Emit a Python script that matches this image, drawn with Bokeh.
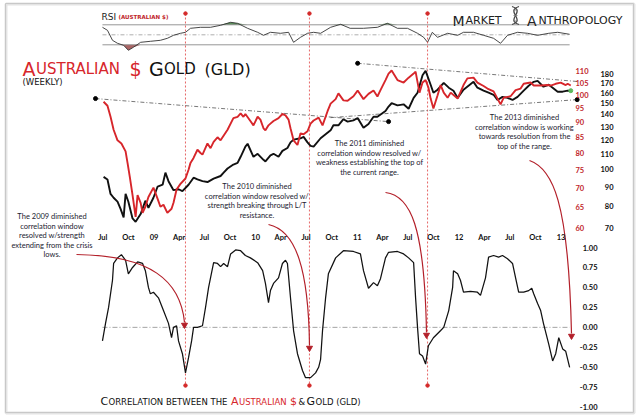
import numpy as np
import pandas as pd
from bokeh.plotting import figure
from bokeh.models import Range1d, LogScale, LinearAxis, FixedTicker, NumeralTickFormatter, Label
from bokeh.embed import file_html
from bokeh.resources import INLINE

# ---------------- data ----------------
corr_dates = ["2008-06-30","2008-07-11","2008-07-22","2008-08-05","2008-08-09","2008-08-23","2008-09-06",
              "2008-09-21","2008-10-01","2008-10-16","2008-11-03","2008-11-21","2008-12-01","2008-12-12",
              "2008-12-19","2008-12-30","2009-01-17","2009-02-04","2009-02-22","2009-03-05","2009-03-12",
              "2009-03-23","2009-03-30","2009-04-13","2009-04-24","2009-05-05","2009-05-16","2009-05-23",
              "2009-06-06","2009-06-24","2009-07-05","2009-07-16","2009-08-03","2009-08-17","2009-08-28",
              "2009-09-08","2009-09-22","2009-10-03","2009-10-21","2009-11-08","2009-11-25","2009-12-13",
              "2010-01-08","2010-01-26","2010-02-05","2010-02-16","2010-02-23","2010-03-06","2010-03-24",
              "2010-04-07","2010-04-18","2010-04-25","2010-05-06","2010-05-17","2010-05-31","2010-06-18",
              "2010-06-29","2010-07-17","2010-08-04","2010-08-15","2010-08-22","2010-08-29","2010-09-09",
              "2010-09-19","2010-10-15","2010-11-12","2010-12-18","2011-01-12","2011-01-23","2011-02-10",
              "2011-02-28","2011-03-14","2011-03-25","2011-04-12","2011-04-23","2011-05-25","2011-06-16",
              "2011-07-04","2011-07-22","2011-07-29","2011-08-05","2011-08-12","2011-08-23","2011-09-03",
              "2011-09-13","2011-10-01","2011-10-27","2011-11-07","2011-11-25","2011-12-09","2011-12-12",
              "2011-12-27","2012-01-06","2012-01-17","2012-02-11","2012-03-07","2012-03-18","2012-04-05",
              "2012-04-16","2012-05-04","2012-05-22","2012-06-05","2012-06-23","2012-07-11","2012-07-22",
              "2012-08-02","2012-08-20","2012-09-07","2012-09-18","2012-09-25","2012-10-09","2012-10-20",
              "2012-10-30","2012-11-18","2012-12-02","2012-12-13","2012-12-24","2013-01-07","2013-01-18",
              "2013-02-01"]
corr_values = [-0.17, 0.05, 0.25, 0.59, 0.80, 0.87, 0.91,
               0.84, 0.67, 0.75, 0.82, 0.80, 0.71, 0.50,
               0.42, 0.44, 0.37, 0.21, 0.05, -0.13, 0.00,
               0.02, -0.17, -0.33, -0.57, -0.38, -0.17, 0.00,
               0.00, 0.02, 0.25, 0.50, 0.81, 0.80, 0.76,
               0.80, 0.76, 0.92, 0.97, 0.96, 0.90, 0.87,
               0.81, 0.71, 0.55, 0.31, 0.46, 0.55, 0.62,
               0.80, 0.84, 0.80, 0.37, -0.04, -0.33, -0.54,
               -0.63, -0.63, -0.57, -0.50, -0.40, -0.04, 0.37,
               0.67, 0.87, 0.96, 0.95, 0.92, 0.71, 0.49,
               0.56, 0.52, 0.61, 0.87, 0.94, 0.95, 0.92,
               0.87, 0.81, 0.37, 0.00, -0.33, -0.36, -0.46,
               -0.23, -0.13, -0.04, 0.00, 0.21, 0.50, 0.71,
               0.67, 0.59, 0.44, 0.45, 0.44, 0.40, 0.62,
               0.88, 0.90, 0.88, 0.90, 0.86, 0.80, 0.62,
               0.44, 0.44, 0.46, 0.49, 0.42, 0.30, 0.21,
               0.05, -0.21, -0.42, -0.33, -0.13, -0.27, -0.30,
               -0.50]

aud_dates = ["2008-07-04","2008-07-18","2008-07-29","2008-08-09","2008-08-23","2008-09-06","2008-09-21",
             "2008-09-28","2008-10-06","2008-10-16","2008-10-27","2008-11-03","2008-11-14","2008-11-21",
             "2008-12-01","2008-12-12","2008-12-30","2009-01-14","2009-01-24","2009-02-04","2009-02-18",
             "2009-03-05","2009-03-12","2009-03-23","2009-04-06","2009-04-24","2009-05-05","2009-05-12",
             "2009-05-23","2009-06-06","2009-06-17","2009-06-24","2009-07-12","2009-07-23","2009-08-03",
             "2009-08-17","2009-08-28","2009-09-22","2009-10-13","2009-10-28","2009-11-08","2009-11-18",
             "2009-11-25","2009-12-13","2009-12-24","2010-01-08","2010-01-18","2010-01-29","2010-02-05",
             "2010-02-16","2010-02-23","2010-03-06","2010-03-24","2010-04-07","2010-04-18","2010-04-29",
             "2010-05-06","2010-05-17","2010-05-31","2010-06-11","2010-06-22","2010-07-06","2010-07-17",
             "2010-07-28","2010-08-15","2010-08-29","2010-09-16","2010-09-27","2010-10-15","2010-10-25",
             "2010-11-12","2010-11-27","2010-12-18","2011-01-02","2011-01-23","2011-02-10","2011-02-28",
             "2011-03-14","2011-03-25","2011-04-12","2011-04-23","2011-05-04","2011-05-25","2011-06-16",
             "2011-07-04","2011-07-22","2011-07-29","2011-08-12","2011-08-23","2011-09-03","2011-09-13",
             "2011-09-21","2011-10-01","2011-10-16","2011-10-27","2011-11-07","2011-11-21","2011-12-02",
             "2011-12-27","2012-01-17","2012-01-31","2012-02-22","2012-03-07","2012-03-29","2012-04-12",
             "2012-05-04","2012-05-18","2012-05-29","2012-06-09","2012-07-04","2012-07-22","2012-08-09",
             "2012-08-20","2012-09-14","2012-09-25","2012-10-20","2012-11-14","2012-11-25","2012-12-13",
             "2012-12-31","2013-01-18","2013-01-25","2013-02-05"]
aud_values = [97.5, 96, 92, 87.5, 84, 83, 80.5,
              77, 73, 68, 62.5, 68, 66, 63.5,
              65, 67.5, 70, 67, 65, 65.5, 63.5,
              64.5, 66, 69.5, 71, 72.5, 75, 77,
              78.5, 81, 80, 79.5, 83, 81.5, 83.5,
              85, 84, 87.5, 91.5, 92, 93.2, 92,
              93, 90.5, 89, 92, 91, 88, 87.3,
              89, 89.6, 90.5, 91.5, 93, 92.5, 91,
              88, 84, 82.5, 86.3, 86, 87, 89.6,
              90.7, 91.7, 89, 94, 96.8, 98.5, 100.7,
              98, 97.9, 99.6, 101.8, 98.5, 100.5, 101.8,
              99.5, 102, 106, 108.7, 110, 106, 105,
              107, 108.7, 109.5, 101, 105, 106, 103,
              98.7, 95, 100, 104, 101, 99, 101,
              98.7, 104, 106.7, 107, 105, 103.6, 102.6,
              101.5, 98.7, 96.5, 99, 99.6, 102, 102.6,
              104.5, 105, 103.8, 103.8, 104, 103.8, 104.5,
              105, 104, 104.5, 103.8]

gld_dates = ["2008-07-04","2008-07-18","2008-07-29","2008-08-09","2008-08-23","2008-09-03","2008-09-14",
             "2008-09-21","2008-10-01","2008-10-16","2008-10-27","2008-11-14","2008-12-01","2008-12-12",
             "2008-12-30","2009-01-14","2009-02-01","2009-02-11","2009-02-22","2009-03-12","2009-03-30",
             "2009-04-13","2009-05-05","2009-05-23","2009-06-06","2009-06-24","2009-07-12","2009-08-03",
             "2009-08-28","2009-09-08","2009-09-22","2009-10-13","2009-10-28","2009-11-08","2009-11-25",
             "2009-12-03","2009-12-24","2010-01-08","2010-01-29","2010-02-05","2010-02-23","2010-03-06",
             "2010-03-24","2010-04-07","2010-04-25","2010-05-06","2010-05-17","2010-06-11","2010-06-22",
             "2010-07-06","2010-07-17","2010-07-28","2010-08-22","2010-09-09","2010-09-27","2010-10-07",
             "2010-10-25","2010-11-12","2010-11-27","2010-12-18","2011-01-02","2011-01-23","2011-02-10",
             "2011-02-28","2011-03-14","2011-04-12","2011-04-23","2011-05-04","2011-05-25","2011-06-16",
             "2011-07-04","2011-07-22","2011-08-05","2011-08-23","2011-09-03","2011-09-21","2011-10-01",
             "2011-10-16","2011-11-07","2011-11-25","2011-12-12","2011-12-27","2012-01-17","2012-02-22",
             "2012-03-07","2012-03-29","2012-04-16","2012-05-04","2012-05-18","2012-06-05","2012-06-23",
             "2012-07-11","2012-07-29","2012-08-20","2012-09-07","2012-09-25","2012-10-09","2012-10-30",
             "2012-11-18","2012-12-02","2012-12-20","2013-01-07","2013-01-25","2013-02-05"]
gld_values = [95.5, 94, 86, 84, 82, 78.5, 74.5,
              86, 82, 74, 72.5, 76, 82.5, 79,
              84, 90, 91, 98, 93, 88, 88.5,
              87.5, 91, 95, 94, 93, 92.5, 94.5,
              96, 98, 100.5, 103, 104, 108, 115,
              117, 108, 110, 106, 105, 109, 110,
              108, 112, 114, 118, 120, 121, 122,
              118, 115.5, 115, 121, 124, 127, 131,
              131, 136, 134, 135, 137, 129, 132,
              138, 138, 143, 147, 150, 148, 149,
              145, 155, 160, 178, 183, 168, 160,
              163, 170, 165, 162, 155, 163, 171,
              165, 162, 160, 158, 153, 156, 155,
              153, 156, 162, 167, 171, 172, 166,
              168, 165, 161, 161, 162, 162]

rsi_dates = ["2008-06-30","2008-07-18","2008-08-05","2008-08-23","2008-09-14","2008-10-01","2008-10-19",
             "2008-11-14","2008-12-19","2009-01-24","2009-02-18","2009-03-12","2009-04-06","2009-04-24",
             "2009-05-12","2009-06-17","2009-07-23","2009-08-28","2009-10-03","2009-10-28","2009-12-03",
             "2010-01-08","2010-01-29","2010-02-23","2010-03-31","2010-04-29","2010-05-17","2010-06-11",
             "2010-07-06","2010-07-28","2010-08-22","2010-09-27","2010-11-02","2010-12-06","2011-01-23",
             "2011-03-14","2011-04-19","2011-05-25","2011-06-30","2011-08-05","2011-08-27","2011-09-10",
             "2011-09-27","2011-10-16","2011-11-21","2011-12-27","2012-01-17","2012-02-22","2012-03-29",
             "2012-05-04","2012-05-29","2012-06-23","2012-07-29","2012-09-03","2012-10-09","2012-11-18",
             "2012-12-20","2013-02-01"]
rsi_values = [65, 59, 39, 33, 29, 19, 25,
              35, 37, 39, 43, 49, 53, 55,
              63, 65, 65, 69, 75, 73, 63,
              55, 49, 55, 53, 55, 35, 45,
              53, 55, 53, 65, 71, 63, 63,
              65, 73, 63, 63, 53, 45, 35,
              55, 45, 53, 49, 55, 55, 49,
              43, 33, 49, 55, 53, 49, 53,
              55, 51]

event_dates = ["2009-04-24", "2010-07-13", "2011-09-10"]

aud_ticks = [60, 65, 70, 75, 80, 85, 90, 95, 100, 105, 110]
gld_ticks = [70, 80, 90, 100, 110, 120, 130, 140, 150, 160, 170, 180]
corr_ticks = [-1.0, -0.75, -0.5, -0.25, 0.0, 0.25, 0.5, 0.75, 1.0]
month_tick_dates = ["2008-07-01","2008-10-01","2009-01-01","2009-04-01","2009-07-01","2009-10-01",
                    "2010-01-01","2010-04-01","2010-07-01","2010-10-01","2011-01-01","2011-04-01",
                    "2011-07-01","2011-10-01","2012-01-01","2012-04-01","2012-07-01","2012-10-01",
                    "2013-01-01"]
month_tick_labels = ["Jul","Oct","09","Apr","Jul","Oct","10","Apr","Jul","Oct","11","Apr",
                     "Jul","Oct","12","Apr","Jul","Oct","13"]

# trend lines drawn on the AUD scale
trend_starts = ["2008-06-05", "2010-09-27", "2011-01-02"]
trend_ends = ["2011-04-23", "2013-02-28", "2013-03-04"]
trend_start_levels = [98.7, 91.7, 113.1]
trend_end_levels = [90.3, 98.3, 105.4]
trend_dot_dates = ["2008-06-05", "2011-04-23", "2013-02-28", "2011-01-02"]
trend_dot_levels = [98.7, 90.3, 98.3, 113.1]

# ---------------- layout calibration (reference pixel geometry) ----------------
W, H = 638, 416
LEFT, TOP = 0, 0
X_ANCHOR = pd.Timestamp("2009-01-01")
X_ANCHOR_PX = 153.5
PX_PER_YEAR = 101.75


def px_to_ms(x):
    return (X_ANCHOR + pd.Timedelta(days=(x - X_ANCHOR_PX) * 365.25 / PX_PER_YEAR)).value / 1e6


def lin_map(v1, y1, v2, y2):
    return lambda y: v1 + (y - y1) * (v2 - v1) / (y2 - y1)


def log_map(v1, y1, v2, y2):
    f = lin_map(np.log(v1), y1, np.log(v2), y2)
    return lambda y: float(np.exp(f(y)))


corr_at = lin_map(1.0, 247.0, -1.0, 406.7)
rsi_at = lin_map(70, 24.3, 30, 44.3)
aud_at = log_map(110, 70, 60, 227)
gld_at = log_map(180, 73, 70, 227)


def rng(f):
    return Range1d(start=f(TOP + H), end=f(TOP))


RED = "#d7262b"
DARK_RED = "#b3202a"
INK = "#1c1c30"

p = figure(width=W, height=H, output_backend="svg", toolbar_location=None,
           x_range=Range1d(px_to_ms(LEFT), px_to_ms(LEFT + W)), y_range=rng(corr_at),
           x_axis_location=None, y_axis_location=None, min_border=0)
p.grid.grid_line_color = None
p.outline_line_color = None
p.background_fill_color = "white"
p.border_fill_color = "white"
p.extra_y_ranges = {"aud": rng(aud_at), "gld": rng(gld_at), "rsi": rng(rsi_at),
                    "py": Range1d(TOP + H, TOP)}
p.extra_y_scales = {"aud": LogScale(), "gld": LogScale()}
p.extra_x_ranges = {"px": Range1d(LEFT, LEFT + W)}

# card frame
p.quad(left=[5.5], right=[633.5], top=[3.5], bottom=[412.5], x_range_name="px", y_range_name="py",
       fill_color=None, line_color="#e4e4e4", line_width=3)
p.quad(left=[5], right=[633], top=[3], bottom=[412], x_range_name="px", y_range_name="py",
       fill_color=None, line_color="#c8c8c8", line_width=1)

cd = pd.to_datetime(corr_dates)
ad = pd.to_datetime(aud_dates)
gd = pd.to_datetime(gld_dates)
rd = pd.to_datetime(rsi_dates)
ed = pd.to_datetime(event_dates)
x_first, x_last = cd[0], cd[-1]

# ---- RSI panel ----
rv = np.array(rsi_values, dtype=float)
p.varea(x=rd, y1=np.minimum(rv, 30), y2=30, y_range_name="rsi", fill_color="#9c4a4a", fill_alpha=0.85)
p.varea(x=rd, y1=np.maximum(rv, 70), y2=70, y_range_name="rsi", fill_color="#3f7d3f", fill_alpha=0.85)
p.segment(x0=[x_first, x_first], y0=[70, 30], x1=[x_last, x_last], y1=[70, 30], y_range_name="rsi",
          line_color="#8a8a8a", line_width=0.9)
p.segment(x0=[x_first], y0=[50], x1=[x_last], y1=[50], y_range_name="rsi",
          line_color="#9a9a9a", line_width=0.8, line_dash="4 2 1 2")
p.line(rd, rv, y_range_name="rsi", line_color="#333333", line_width=0.9)

# ---- event markers ----
EV_TOP, EV_BOTTOM = 13, 385
p.segment(x0=ed, y0=[EV_TOP] * 3, x1=ed, y1=[EV_BOTTOM] * 3, y_range_name="py",
          line_color="#e04040", line_width=0.8, line_dash="2 2")
p.scatter(list(ed) * 2, [EV_TOP] * 3 + [EV_BOTTOM] * 3, y_range_name="py", size=3.5,
          color="#d42a2a")

# ---- price panel ----
p.segment(x0=pd.to_datetime(trend_starts), y0=trend_start_levels, x1=pd.to_datetime(trend_ends),
          y1=trend_end_levels, y_range_name="aud", line_color="#555555", line_width=0.8,
          line_dash="4 2 1 2")
p.scatter(pd.to_datetime(trend_dot_dates), trend_dot_levels, y_range_name="aud", size=4, color="black")
p.line(gd, gld_values, y_range_name="gld", line_color="#111111", line_width=1.9)
p.line(ad, aud_values, y_range_name="aud", line_color=RED, line_width=1.9)
p.scatter([gd[-1]], [gld_values[-1]], y_range_name="gld", size=4, color="#5cb85c")

# ---- correlation panel ----
p.segment(x0=[x_first], y0=[0], x1=[x_last], y1=[0], line_color="#9a9a9a", line_width=0.9,
          line_dash="5 2 1 2")
p.line(cd, corr_values, line_color="#111111", line_width=1.25)

# ---- axes (fixed inside the canvas) ----
common = dict(axis_line_color=None, major_tick_line_color=None, minor_tick_line_color=None,
              major_tick_out=0, major_tick_in=0, minor_tick_out=0, minor_tick_in=0,
              major_label_text_font="Lato", major_label_text_font_style="bold",
              major_label_text_font_size="7.5px")
ax_aud = LinearAxis(y_range_name="aud", ticker=FixedTicker(ticks=aud_ticks),
                    formatter=NumeralTickFormatter(format="0"), fixed_location=px_to_ms(574),
                    major_label_standoff=1, major_label_text_color="#c1272d", **common)
p.add_layout(ax_aud, "right")
ax_gld = LinearAxis(y_range_name="gld", ticker=FixedTicker(ticks=gld_ticks),
                    formatter=NumeralTickFormatter(format="0"), fixed_location=px_to_ms(614),
                    major_label_standoff=1, major_label_text_color="#111111", **common)
p.add_layout(ax_gld, "left")
ax_corr = LinearAxis(ticker=FixedTicker(ticks=corr_ticks), formatter=NumeralTickFormatter(format="0.00"),
                     fixed_location=px_to_ms(598), major_label_standoff=1,
                     major_label_text_color="#111111", **common)
p.add_layout(ax_corr, "left")
tick_ms = [pd.Timestamp(d).value / 1e6 for d in month_tick_dates]
ax_x = LinearAxis(ticker=FixedTicker(ticks=tick_ms),
                  major_label_overrides={t: l for t, l in zip(tick_ms, month_tick_labels)},
                  fixed_location=corr_at(232.5), major_label_standoff=0,
                  major_label_text_color="#111111", **common)
p.add_layout(ax_x, "below")

# ---- arrows (annotation geometry in reference pixels) ----
arrows = [  # x0, y0, cx0, cy0, cx1, cy1, x1, y1
    (76, 254, 150, 255, 180, 280, 184, 322),
    (268, 224, 296, 230, 308, 270, 309, 345),
    (385, 192, 410, 195, 424, 225, 426, 332),
    (529, 160, 552, 168, 568, 200, 571, 333),
]
a = np.array(arrows, dtype=float)
p.bezier(x0=a[:, 0], y0=a[:, 1], cx0=a[:, 2], cy0=a[:, 3], cx1=a[:, 4], cy1=a[:, 5],
         x1=a[:, 6], y1=a[:, 7], x_range_name="px", y_range_name="py",
         line_color=DARK_RED, line_width=1.2)
p.scatter(a[:, 6], a[:, 7] + 2.5, x_range_name="px", y_range_name="py", marker="triangle",
          angle=np.pi, size=6, color=DARK_RED)

# logo helix
p.bezier(x0=[511.5, 518.5], y0=[6, 6], cx0=[526, 504], cy0=[11, 11], cx1=[504, 526], cy1=[19, 19],
         x1=[518.5, 511.5], y1=[24, 24], x_range_name="px", y_range_name="py",
         line_color="#444444", line_width=1.3)
p.segment(x0=[513, 513, 513], y0=[9.5, 15, 20.5], x1=[517, 517, 517], y1=[9.5, 15, 20.5],
          x_range_name="px", y_range_name="py", line_color="#777777", line_width=0.8)


# ---- texts ----
def txt(x, y, s, size, color=INK, font="DejaVu Sans", style="normal", align="left",
        baseline="alphabetic"):
    p.add_layout(Label(x=x, y=y, x_range_name="px", y_range_name="py", text=s, text_font=font,
                       text_font_size=size, text_color=color, text_font_style=style,
                       text_align=align, text_baseline=baseline))


txt(101, 16.5, "RSI", "9px", "#222222")
txt(118, 16.5, "(AUSTRALIAN $)", "5.5px", "#c1272d", style="bold")

txt(452, 20, "M", "14px", "#222222")
txt(465, 20, "ARKET", "11px", "#222222")
txt(526.5, 20, "A", "14px", "#222222")
txt(538, 20, "NTHROPOLOGY", "11px", "#222222")

txt(22, 68.5, "A", "19px", RED)
txt(35.5, 68.5, "USTRALIAN", "15px", RED)
txt(129, 68.5, "$", "19px", RED)
txt(148.5, 68.5, "G", "19px", "#111111")
txt(163.5, 68.5, "OLD", "15px", "#111111")
txt(204, 68.5, "(GLD)", "16px", "#111111")
txt(22, 81.5, "(WEEKLY)", "8.5px", "#111111")

txt(100, 401, "C", "11px", "#111111")
txt(108, 401, "ORRELATION BETWEEN THE", "8.5px", "#111111")
txt(230.5, 401, "A", "11px", RED)
txt(238.5, 401, "USTRALIAN", "8.5px", RED)
txt(289.5, 401, "$", "11px", RED)
txt(298, 401, "&", "8.5px", "#111111")
txt(306, 401, "G", "11px", "#111111")
txt(315, 401, "OLD (GLD)", "8.5px", "#111111")

notes = [
    (51.5, 216, ["The 2009 diminished", "correlation window", "resolved w/strength",
                 "extending from the crisis", "lows."]),
    (256.5, 186, ["The 2010 diminished", "correlation window resolved w/",
                  "strength breaking through L/T", "resistance."]),
    (369, 143, ["The 2011 diminished", "correlation window resolved w/",
                "weakness establishing the top of", "the current range."]),
    (524, 117, ["The 2013 diminished", "correlation window is working",
                "towards resolution from the", "top of the range."]),
]
for cx, y0, lines in notes:
    for i, s in enumerate(lines):
        txt(cx, y0 + i * 9.5, s, "7.5px", INK, font="Lato", align="center", baseline="middle")

open("out.html", "w").write(file_html(p, INLINE))
